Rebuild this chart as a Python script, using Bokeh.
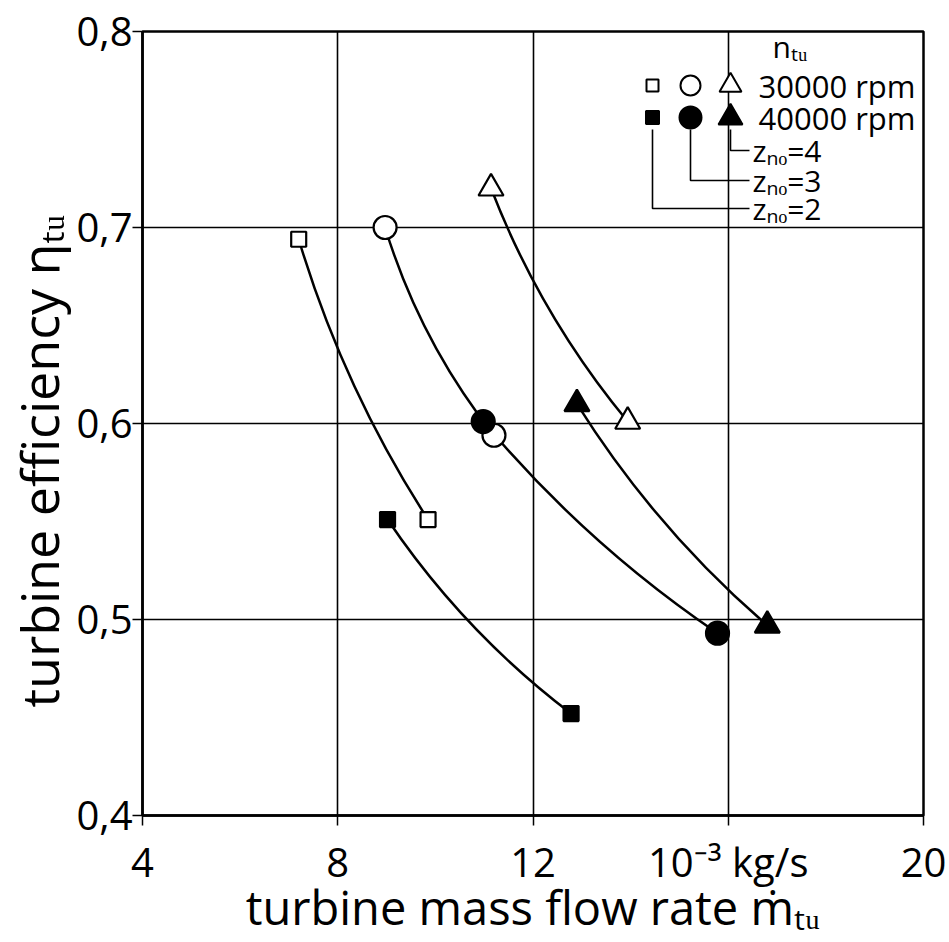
import math
from bokeh.plotting import figure
from bokeh.models import Range1d, FixedTicker, Title
from bokeh.embed import file_html
from bokeh.resources import INLINE
from bokeh.core.properties import value

# ---------------- data ----------------
sq_open_x = [7.20, 9.85]      # z_no=2, 30000 rpm
sq_open_y = [0.694, 0.551]
sq_fill_x = [9.02, 12.78]     # z_no=2, 40000 rpm
sq_fill_y = [0.551, 0.452]
ci_open_x = [8.97, 11.20]     # z_no=3, 30000 rpm
ci_open_y = [0.700, 0.594]
ci_fill_x = [10.98, 15.78]    # z_no=3, 40000 rpm
ci_fill_y = [0.601, 0.493]
tr_open_x = [11.14, 13.94]    # z_no=4, 30000 rpm
tr_open_y = [0.720, 0.601]
tr_fill_x = [12.90, 16.80]    # z_no=4, 40000 rpm
tr_fill_y = [0.610, 0.497]

x_ticks = [4, 8, 12, 16, 20]
x_tick_labels = ["4", "8", "12", "10⁻³ kg/s", "20"]
y_ticks = [0.4, 0.5, 0.6, 0.7, 0.8]
y_tick_labels = ["0,4", "0,5", "0,6", "0,7", "0,8"]

x_title = "turbine mass flow rate ṁₜᵤ"
y_title = "turbine efficiency ηₜᵤ"
legend_speeds = ["30000 rpm", "40000 rpm"]
legend_blades = ["zₙₒ=4", "zₙₒ=3", "zₙₒ=2"]
legend_title = "nₜᵤ"

FONT = "Open Sans"
X0, X1, Y0, Y1 = 4, 20, 0.4, 0.8
FW, FH = 781, 784  # frame size in px
FL, FT = 138, 31   # frame left / top in page px

p = figure(frame_width=FW, frame_height=FH, output_backend="svg", toolbar_location=None,
           x_range=Range1d(X0, X1), y_range=Range1d(Y0, Y1),
           min_border_left=FL, min_border_right=26, min_border_top=FT, min_border_bottom=120)
p.background_fill_color = "white"
p.border_fill_color = "white"
p.outline_line_color = "black"
p.outline_line_width = 2.5

for ax in (p.xaxis[0], p.yaxis[0]):
    ax.axis_line_color = "black"
    ax.axis_line_width = 2.5
    ax.major_tick_line_color = "black"
    ax.major_tick_line_width = 1.5
    ax.major_tick_in = 0
    ax.major_tick_out = 10
    ax.minor_tick_line_color = None
    ax.major_label_text_font = FONT
    ax.major_label_text_font_size = "40px"
    ax.major_label_text_color = "black"
    ax.axis_label_text_font = FONT
    ax.axis_label_text_font_size = "47px"
    ax.axis_label_text_font_style = "normal"
    ax.axis_label_text_color = "black"

p.xaxis.ticker = FixedTicker(ticks=x_ticks)
p.yaxis.ticker = FixedTicker(ticks=y_ticks)
p.xaxis.major_label_overrides = dict(zip(x_ticks, x_tick_labels))
p.yaxis.major_label_overrides = dict(zip(y_ticks, y_tick_labels))
p.xaxis.major_label_standoff = 8
p.yaxis.major_label_standoff = 0
p.xaxis.axis_label = x_title
p.xaxis.axis_label_standoff = -17

# y title as a left-side Title so it can sit off-centre like the reference
p.add_layout(Title(text=y_title, align="left", offset=108, standoff=0,
                   text_font=FONT, text_font_size="52px", text_font_style="normal",
                   text_color="black"), "left")

p.xgrid.grid_line_color = "black"
p.ygrid.grid_line_color = "black"
p.xgrid.grid_line_width = 1.6
p.ygrid.grid_line_width = 1.6

pxx = FW / (X1 - X0)
pxy = FH / (Y1 - Y0)


def dx_(px):
    return X0 + (px - FL) / pxx


def dy_(py):
    return Y1 - (py - FT) / pxy


def bow(xs, ys, b=22.0):
    sx0, sy0 = xs[0] * pxx, -ys[0] * pxy
    sx1, sy1 = xs[1] * pxx, -ys[1] * pxy
    dx, dy = sx1 - sx0, sy1 - sy0
    L = math.hypot(dx, dy)
    nx, ny = -dy / L, dx / L
    cx = (sx0 + sx1) / 2 + b * nx
    cy = (sy0 + sy1) / 2 + b * ny
    return cx / pxx, -cy / pxy


series = [
    (sq_open_x, sq_open_y, "square", False, 15),
    (sq_fill_x, sq_fill_y, "square", True, 15),
    (ci_open_x, ci_open_y, "circle", False, 23),
    (ci_fill_x, ci_fill_y, "circle", True, 23),
    (tr_open_x, tr_open_y, "triangle", False, 25),
    (tr_fill_x, tr_fill_y, "triangle", True, 25),
]

for xs, ys, m, filled, s in series:
    cx, cy = bow(xs, ys)
    p.quadratic(x0=[xs[0]], y0=[ys[0]], x1=[xs[1]], y1=[ys[1]], cx=[cx], cy=[cy],
                line_color="black", line_width=2.5)

for xs, ys, m, filled, s in series:
    p.scatter(xs, ys, marker=m, size=s, line_color="black", line_width=2.2,
              fill_color="black" if filled else "white")

# ---------------- legend (page-pixel layout converted to data) ----------------
leg_mx = [648, 686, 726]
leg_rows = [85, 117]
leg_markers = ["square", "circle", "triangle"]
leg_sizes = [[12, 20, 22], [13, 22, 24]]
for r, py in enumerate(leg_rows):
    for i, px in enumerate(leg_mx):
        p.scatter([dx_(px)], [dy_(py)], marker=leg_markers[i], size=leg_sizes[r][i],
                  line_color="black", line_width=2,
                  fill_color="black" if r == 1 else "white")
    p.text([dx_(754)], [dy_(py)], text=[legend_speeds[r]], text_font=value(FONT),
           text_font_size=value("31px"), text_baseline="middle", text_align="left",
           text_color="black")

p.text([dx_(768)], [dy_(46)], text=[legend_title], text_font=value(FONT),
       text_font_size=value("30px"), text_baseline="middle", text_align="left",
       text_color="black")

leader_y = [150, 180, 208]
leader_x = [726, 686, 648]
for k in range(3):
    xv = dx_(leader_x[k])
    p.line([xv, xv, dx_(745)], [dy_(leg_rows[1] + 12), dy_(leader_y[k]), dy_(leader_y[k])],
           line_color="black", line_width=1.6)
    p.text([dx_(748)], [dy_(leader_y[k])], text=[legend_blades[k]], text_font=value(FONT),
           text_font_size=value("30px"), text_baseline="middle", text_align="left",
           text_color="black")

open("out.html", "w").write(file_html(p, INLINE))
